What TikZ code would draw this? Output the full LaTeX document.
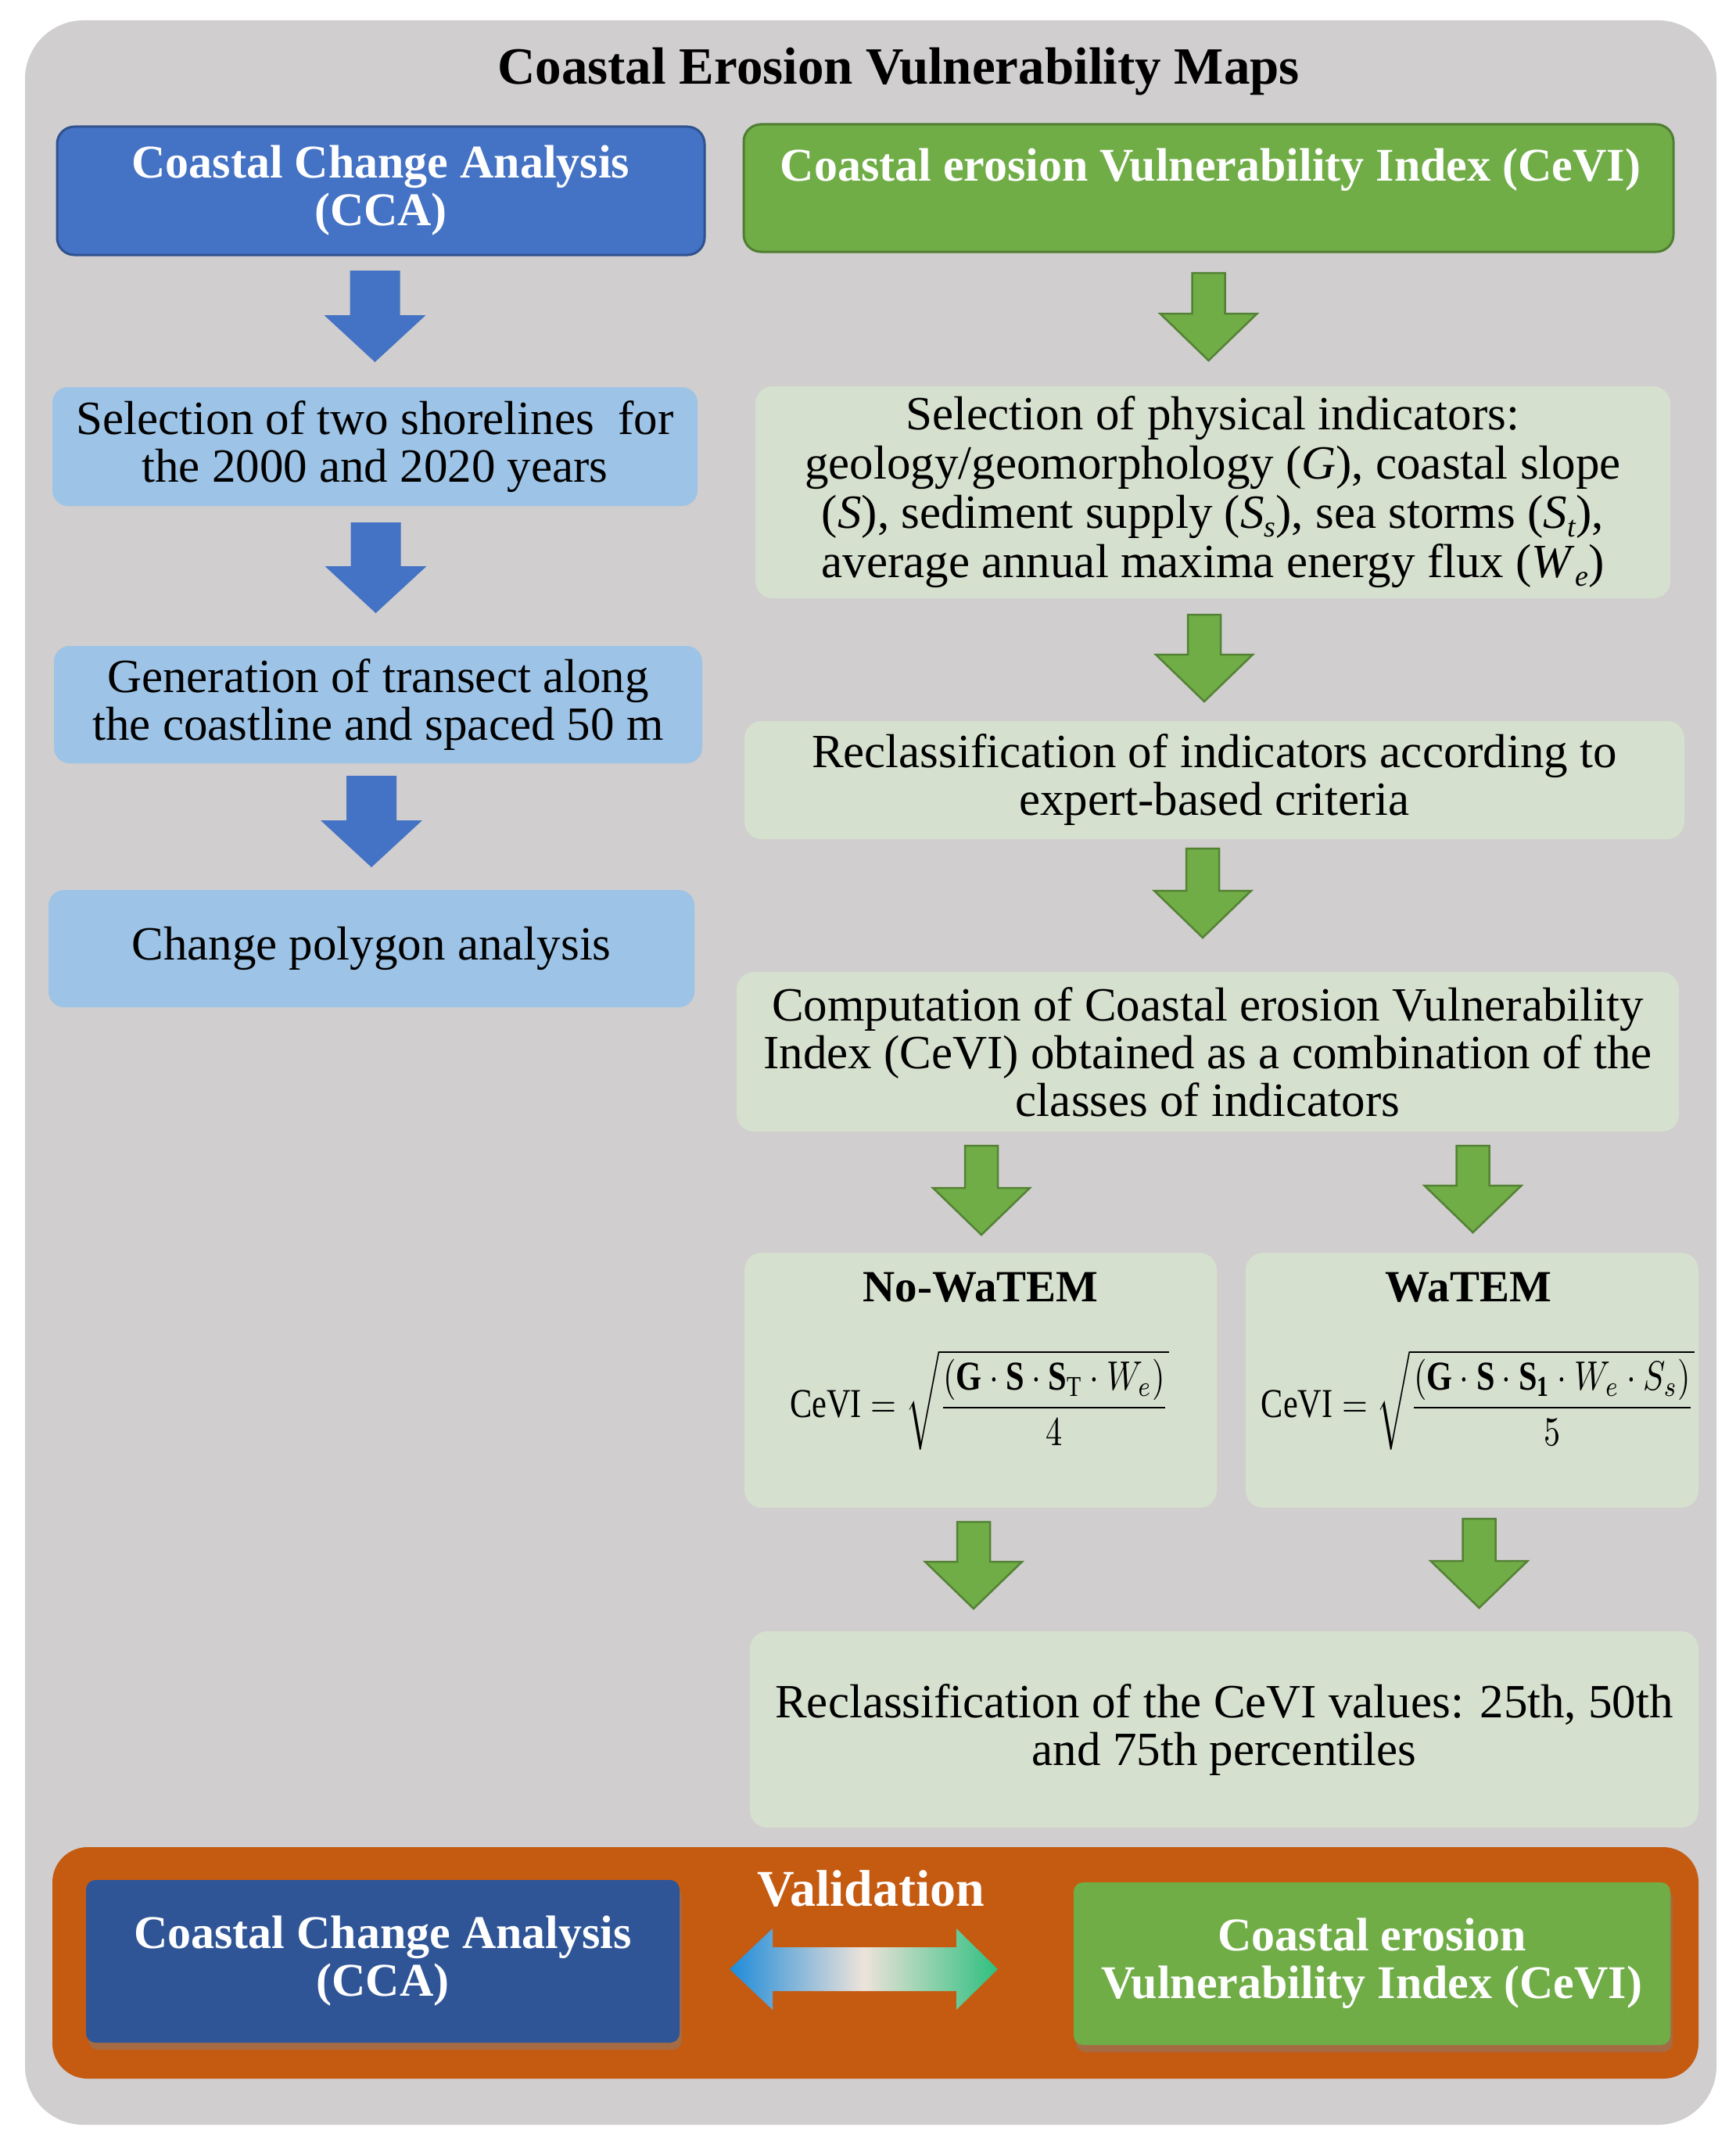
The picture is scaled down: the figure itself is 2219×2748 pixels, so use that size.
\documentclass[tikz,border=0pt]{standalone}
\usepackage{fontspec}
\usepackage{amsmath}
\setmainfont{Liberation Serif}
\usetikzlibrary{calc,shadows}
\definecolor{bggrey}{HTML}{D0CECE}
\definecolor{hblue}{HTML}{4472C4}
\definecolor{hblueb}{HTML}{2F528F}
\definecolor{lblue}{HTML}{9DC3E6}
\definecolor{hgreen}{HTML}{70AD47}
\definecolor{hgreenb}{HTML}{507E32}
\definecolor{lgreen}{HTML}{D6E0CE}
\definecolor{garrb}{HTML}{548235}
\definecolor{band}{HTML}{C55A11}
\definecolor{dblue}{HTML}{2F5597}
\definecolor{vblue}{HTML}{1E8BD9}
\definecolor{vmid}{HTML}{EDE3DA}
\definecolor{vgreen}{HTML}{2EBF7F}
\pgfdeclarehorizontalshading{valshade}{100bp}{color(0bp)=(vblue); color(25bp)=(vblue); color(50bp)=(vmid); color(75bp)=(vgreen); color(100bp)=(vgreen)}
\newcommand\fbody{\fontsize{61pt}{61pt}\selectfont}
\newcommand\fhead{\fontsize{60pt}{61pt}\selectfont\bfseries}
\newcommand\smallsub[1]{\raisebox{-0.18em}{\fontsize{38pt}{38pt}\selectfont\textit{#1}}}
\newcommand\blockarrow[5]{%
  \path[#1] let \p1=#2, \p2=#3 in
    (\x2-#4,\y1) -- (\x2+#4,\y1) -- (\x2+#4,\y2+60pt) -- (\x2+#5,\y2+60pt)
    -- (\x2,\y2) -- (\x2-#5,\y2+60pt) -- (\x2-#4,\y2+60pt) -- cycle;}
\begin{document}
\begin{tikzpicture}[x=1pt,y=-1pt,
  every node/.style={inner sep=0pt, outer sep=0pt},
  hdrblue/.style={fill=hblue, draw=hblueb, line width=3pt, rounded corners=22pt},
  hdrgreen/.style={fill=hgreen, draw=hgreenb, line width=3pt, rounded corners=22pt},
  lbbox/.style={fill=lblue, rounded corners=20pt, align=center, font=\fbody},
  lgbox/.style={fill=lgreen, rounded corners=22pt, align=center, font=\fbody},
  bluearr/.style={fill=hblue},
  greenarr/.style={fill=hgreen, draw=garrb, line width=2.5pt, line join=miter},
  hdrtext/.style={text=white, font=\fhead, align=center},
  lowbox/.style={rounded corners=12pt, align=center, font=\fhead, text=white,
    drop shadow={shadow xshift=3pt, shadow yshift=-9pt, opacity=0.45}}
]
\useasboundingbox (0,0) rectangle (2219,2748);
\fill[white] (0,0) rectangle (2219,2748);
% background panel
\node[fill=bggrey, rounded corners=75pt, minimum width=2163pt, minimum height=2691pt] (bg) at (1113.5,1371.5) {};
\node[font=\fontsize{67pt}{70pt}\selectfont\bfseries, anchor=base] (title) at (1149,108) {Coastal Erosion Vulnerability Maps};

% left column
\node[hdrblue, minimum width=828pt, minimum height=164pt, hdrtext] (cca) at (487,244) {Coastal Change Analysis\\(CCA)};
\node[lbbox, minimum width=825pt, minimum height=152pt] (sel2) at (479.5,571) {Selection of two shorelines~ for\\the 2000 and 2020 years};
\node[lbbox, minimum width=829pt, minimum height=150pt] (gen) at (483.5,901) {Generation of transect along\\the coastline and spaced 50 m};
\node[lbbox, minimum width=826pt, minimum height=150pt] (chg) at (475,1213) {Change polygon analysis};

\blockarrow{bluearr}{($(cca.south)+(0,20)$)}{($(sel2.north)+(0,-32)$)}{32pt}{65pt}
\blockarrow{bluearr}{($(sel2.south)+(0,21)$)}{($(gen.north)+(-3,-42)$)}{32pt}{65pt}
\blockarrow{bluearr}{($(gen.south)+(0,16)$)}{($(chg.north)+(0,-29)$)}{32pt}{65pt}

% right column
\node[hdrgreen, minimum width=1189pt, minimum height=163pt] (cevi) at (1545.5,240.5) {};
\node[hdrtext, text=white, anchor=base] (cevit) at (1548,231) {Coastal erosion Vulnerability Index (CeVI)};
\node[lgbox, minimum width=1170pt, minimum height=271pt, font=\fontsize{61pt}{63pt}\selectfont] (phys) at (1551,629.5) {Selection of physical indicators:\\geology/geomorphology (\textit{G}), coastal slope\\(\textit{S}), sediment supply (\textit{S}\smallsub{s}), sea storms (\textit{S}\smallsub{t}),\\average annual maxima energy flux (\textit{W}\smallsub{e})};
\node[lgbox, minimum width=1202pt, minimum height=151pt] (recl) at (1553,997.5) {Reclassification of indicators according to\\expert-based criteria};
\node[lgbox, minimum width=1205pt, minimum height=204pt] (comp) at (1544.5,1345) {Computation of Coastal erosion Vulnerability\\Index (CeVI) obtained as a combination of the\\classes of indicators};
\node[lgbox, minimum width=604pt, minimum height=326pt] (nowatem) at (1254,1765) {};
\node[lgbox, minimum width=579pt, minimum height=326pt] (watem) at (1882.5,1765) {};
\node[font=\fontsize{57pt}{60pt}\selectfont\bfseries, anchor=base] (nwt) at (1254,1664) {No-WaTEM};
\node[font=\fontsize{57pt}{60pt}\selectfont\bfseries, anchor=base] (wt) at (1878,1664) {WaTEM};
\node (nwf) at (1252.5,1790) {\resizebox*{485pt}{128pt}{$\mathrm{CeVI}=\sqrt{\dfrac{(\mathbf{G}\cdot\mathbf{S}\cdot\mathbf{S}_{\mathrm{T}}\cdot W_{e})}{4}}$}};
\node (wf) at (1890,1790) {\resizebox*{554pt}{128pt}{$\mathrm{CeVI}=\sqrt{\dfrac{(\mathbf{G}\cdot\mathbf{S}\cdot\mathbf{S}_{\mathbf{1}}\cdot W_{e}\cdot S_{s})}{5}}$}};
\node[lgbox, minimum width=1213pt, minimum height=251pt] (reclcevi) at (1565.5,2211.5) {Reclassification of the CeVI values: 25th, 50th\\and 75th percentiles};

\blockarrow{greenarr}{($(cevi.south)+(0,27)$)}{($(cevi.south |- phys.north)+(0,-33)$)}{21pt}{62pt}
\blockarrow{greenarr}{($(phys.south)+(0,21)$)}{($(phys.south |- recl.north)+(-11,-25)$)}{21pt}{62pt}
\blockarrow{greenarr}{($(recl.south)+(0,12)$)}{($(recl.south |- comp.north)+(-15,-44)$)}{21pt}{62pt}
\blockarrow{greenarr}{($(comp.south)+(0,18)$)}{($(nowatem.north)+(1,-23)$)}{21pt}{62pt}
\blockarrow{greenarr}{($(comp.south)+(0,18)$)}{($(watem.north)+(1,-26)$)}{21pt}{62pt}
\blockarrow{greenarr}{($(nowatem.south)+(0,18)$)}{($(nowatem.south |- reclcevi.north)+(-9,-29)$)}{21pt}{62pt}
\blockarrow{greenarr}{($(watem.south)+(0,14)$)}{($(watem.south |- reclcevi.north)+(9,-30)$)}{21pt}{62pt}

% validation band
\node[fill=band, rounded corners=45pt, minimum width=2105pt, minimum height=296pt] (band) at (1119.5,2510) {};
\node[lowbox, fill=dblue, minimum width=759pt, minimum height=208pt] (bcca) at (489.5,2508) {Coastal Change Analysis\\(CCA)};
\node[lowbox, fill=hgreen, minimum width=763pt, minimum height=208pt] (bcevi) at (1754.5,2511) {Coastal erosion\\Vulnerability Index (CeVI)};
\node[font=\fontsize{66pt}{70pt}\selectfont\bfseries, text=white, anchor=base] (valid) at (1114,2437) {Validation};
\path[shading=valshade]
  let \p1=($(bcca.east)+(64,10)$), \p2=($(bcevi.west)+(-97,7)$) in
  (\x1,\y1) -- (\x1+55pt,\y1+52pt) -- (\x1+55pt,\y1+28pt) -- (\x2-53pt,\y1+28pt)
  -- (\x2-53pt,\y1+52pt) -- (\x2,\y1) -- (\x2-53pt,\y1-52pt) -- (\x2-53pt,\y1-28pt)
  -- (\x1+55pt,\y1-28pt) -- (\x1+55pt,\y1-52pt) -- cycle;
\end{tikzpicture}
\end{document}
